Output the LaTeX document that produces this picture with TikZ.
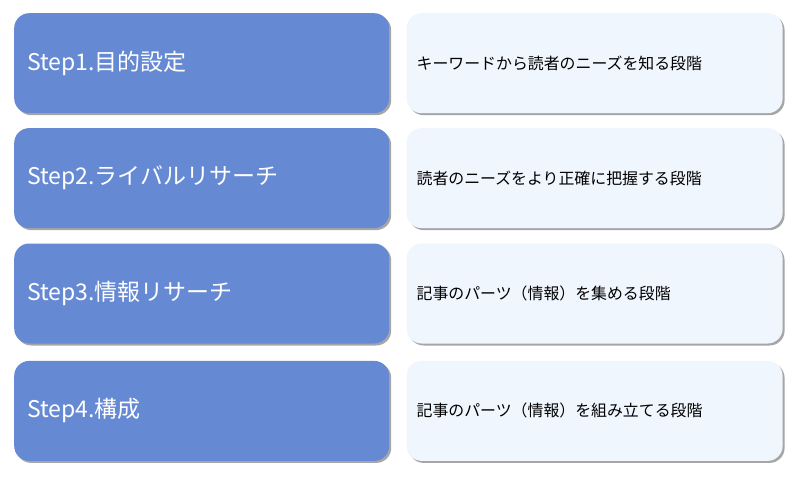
\documentclass[tikz,border=0pt]{standalone}
\usepackage{fontspec}
\setmainfont{Noto Sans CJK JP}
\usetikzlibrary{positioning, shadows}

\definecolor{stepblue}{RGB}{102,137,212}
\definecolor{descblue}{RGB}{240,246,254}

\begin{document}
\begin{tikzpicture}[x=1pt, y=1pt]
			\tikzstyle{Box} = [ %basic look of every box
				rounded corners=15pt,
				minimum height=100pt,
				drop shadow={shadow xshift=2pt, shadow yshift=-2pt, fill=black, opacity=0.35}
			]
			\tikzstyle{StepNode} = [
				Box,
				fill=stepblue,
				text=white,
				minimum width=375pt,
				inner xsep=13pt,
				text width=349pt,
				align=left,
				font=\fontsize{23pt}{26pt}\selectfont
			]
			\tikzstyle{DescNode} = [
				Box,
				fill=descblue,
				text=black,
				minimum width=376pt,
				inner xsep=10pt,
				text width=356pt,
				align=left,
				font=\fontsize{15.9pt}{18pt}\selectfont
			]

			\fill[white] (0,0) rectangle (800,-481);
			\useasboundingbox (0,0) rectangle (800,-481);

			\node (s1) [StepNode, anchor=north west] at (14,-13) {Step1.目的設定};
			\node (s2) [StepNode, below = 14.5pt of s1] {Step2.ライバルリサーチ};
			\node (s3) [StepNode, below = 15pt of s2] {Step3.情報リサーチ};
			\node (s4) [StepNode, below = 17pt of s3] {Step4.構成};

			\node (d1) [DescNode, right = 17pt of s1] {キーワードから読者のニーズを知る段階};
			\node (d2) [DescNode, right = 17pt of s2] {読者のニーズをより正確に把握する段階};
			\node (d3) [DescNode, right = 17pt of s3] {記事のパーツ（情報）を集める段階};
			\node (d4) [DescNode, right = 17pt of s4] {記事のパーツ（情報）を組み立てる段階};
		\end{tikzpicture}
\end{document}
